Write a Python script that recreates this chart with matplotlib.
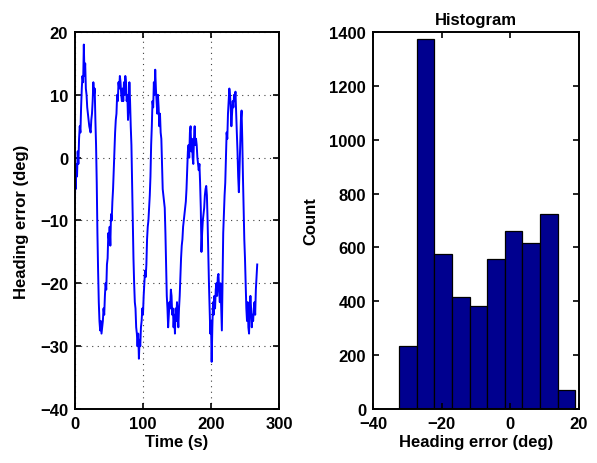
import matplotlib
matplotlib.use("Agg")
import matplotlib.pyplot as plt
import numpy as np

# ---- data ----
time_s = [0, 0.5, 1, 2, 3, 4, 5, 6, 7, 8, 9, 10, 11, 12, 13, 14, 15, 16, 17, 18, 19, 20,
          21, 22, 23, 24, 25, 26, 27, 28, 29, 30, 31, 32, 33, 34, 35, 36, 37, 38, 39, 40,
          41, 42, 43, 44, 45, 46, 47, 48, 49, 50, 51, 52, 53, 54, 55, 56, 57, 58, 59, 60,
          61, 62, 63, 64, 65, 66, 67, 68, 69, 70, 71, 72, 73, 74, 75, 76, 77, 78, 79, 80,
          81, 82, 83, 84, 85, 86, 87, 88, 89, 90, 91, 92, 93, 94, 95, 96, 97, 98, 99, 100,
          101, 102, 103, 104, 105, 106, 107, 108, 109, 110, 111, 112, 113, 114, 115, 116, 117, 118, 119, 120,
          121, 122, 123, 124, 125, 126, 127, 128, 129, 130, 131, 132, 133, 134, 135, 136, 137, 138, 139, 140,
          141, 142, 143, 144, 145, 146, 147, 148, 149, 150, 151, 152, 153, 154, 155, 156, 157, 158, 159, 160,
          161, 162, 163, 164, 165, 166, 167, 168, 169, 170, 171, 172, 173, 174, 175, 176, 177, 178, 179, 180,
          181, 182, 183, 184, 185, 186, 187, 188, 189, 190, 191, 192, 193, 194, 195, 196, 197, 198, 199, 200,
          201, 202, 203, 204, 205, 206, 207, 208, 209, 210, 211, 212, 213, 214, 215, 216, 217, 218, 219, 220,
          221, 222, 223, 224, 225, 226, 227, 228, 229, 230, 231, 232, 233, 234, 235, 236, 237, 238, 239, 240,
          241, 242, 243, 244, 245, 246, 247, 248, 249, 250, 251, 252, 253, 254, 255, 256, 257, 258, 259, 260,
          261, 262, 263, 264, 265, 266, 267, 268]
heading_err = [-7, -2, -5, -1, -3, 1, -1, 3, 5, 4, 8, 11, 13, 12, 18, 13, 15, 11, 10, 8, 7, 6,
               5, 4.5, 4, 6, 7, 9, 12, 10, 11, 6, 2, -4, -12, -18, -23, -26, -27.5, -26, -28, -27,
               -26, -24, -25, -22, -20, -21, -17, -16, -12, -13, -11, -14, -9, -10, -7, -5, -2, 1, 4, 6,
               7, 10, 9, 12, 11, 13, 12, 10, 9, 11, 9, 12, 10, 13, 12, 9, 10, 6, 8, 12,
               9, 5, 2, -4, -10, -16, -20, -23, -24, -27, -28, -30, -28, -32, -29, -30, -27, -26, -24, -25,
               -22, -20, -18, -19, -17, -13, -11, -10, -8, -6, -3, 2, 5, 9, 8, 12, 10, 14, 11, 9,
               7, 10, 8, 5, 7, 4, 3, -1, -5, -6, -7, -8, -12, -17, -22, -24, -27, -25, -23, -24,
               -21, -22, -25, -24, -27, -25, -28, -24, -26, -23, -25, -27, -24, -22, -19, -16, -14, -13, -11, -10,
               -9, -8, -7, -5, -2, 1, 2, 0, 4, 5, 1, 3, 0, -1, 3, 5, 2, 3, 2, 0,
               -1, -2, -1, -4, -8, -15, -12, -10, -9, -8, -6, -5, -4.5, -6, -10, -15, -20, -24, -28, -26,
               -32.5, -27, -23, -25, -22, -24, -21, -20, -22, -19, -18.5, -21, -23, -20, -24, -27.5, -20, -12, -9, -6,
               -4, 0, 4, 3, 7, 9, 11, 10, 8, 5, 7, 9, 8, 10, 9, 10.5, 7, 4, 1, -3,
               -5.5, -2, 2, 6, 7.5, 3, -3, -8, -13, -16, -20, -24, -26, -23, -27, -28, -24, -22, -24, -27,
               -25, -26, -24, -23, -25, -21, -19, -17]

bin_edges = [-32.4, -27.27, -22.14, -17.01, -11.88, -6.75, -1.62, 3.51, 8.64, 13.77, 18.9]
bin_counts = [233, 1375, 576, 417, 382, 556, 660, 615, 725, 69]

left_xticks = [0, 100, 200, 300]
left_yticks = [-40, -30, -20, -10, 0, 10, 20]
right_xticks = [-40, -20, 0, 20]
right_yticks = [0, 200, 400, 600, 800, 1000, 1200, 1400]

# ---- style ----
plt.rcParams['font.family'] = ['Liberation Sans', 'DejaVu Sans']
plt.rcParams['font.weight'] = 'bold'
plt.rcParams['axes.labelweight'] = 'bold'
plt.rcParams['axes.titleweight'] = 'bold'
FS = 12

fig = plt.figure(figsize=(5.97, 4.64), dpi=100)
ax1 = fig.add_axes([0.1256, 0.1164, 0.3417, 0.8125])
ax2 = fig.add_axes([0.6248, 0.1164, 0.3450, 0.8125])

for ax in (ax1, ax2):
    for s in ax.spines.values():
        s.set_linewidth(1.4)
    ax.tick_params(direction='in', length=4, width=1.2, top=True, right=True,
                   labelsize=FS)
    ax.tick_params(axis='x', pad=5)
    ax.tick_params(axis='y', pad=5)

# left: time series
ax1.plot(time_s, heading_err, color=(0, 0, 1), lw=1.4)
ax1.set_xlim(0, 300)
ax1.set_ylim(-40, 20)
ax1.set_xticks(left_xticks)
ax1.set_yticks(left_yticks)
ax1.grid(True, color='0.25', linestyle=(0, (1, 4)), linewidth=0.8)
ax1.set_xlabel('Time (s)', fontsize=FS, labelpad=2)
ax1.set_ylabel('Heading error (deg)', fontsize=FS, labelpad=8)

# right: histogram
widths = np.diff(bin_edges)
ax2.bar(bin_edges[:-1], bin_counts, width=widths, align='edge',
        color=(0, 0, 0.5625), edgecolor='k', linewidth=0.9)
ax2.set_xlim(-40, 20)
ax2.set_ylim(0, 1400)
ax2.set_xticks(right_xticks)
ax2.set_yticks(right_yticks)
ax2.set_xlabel('Heading error (deg)', fontsize=FS, labelpad=2)
ax2.set_ylabel('Count', fontsize=FS, labelpad=8)
ax2.set_title('Histogram', fontsize=FS, pad=6)

fig.savefig('out.png', dpi=100)
